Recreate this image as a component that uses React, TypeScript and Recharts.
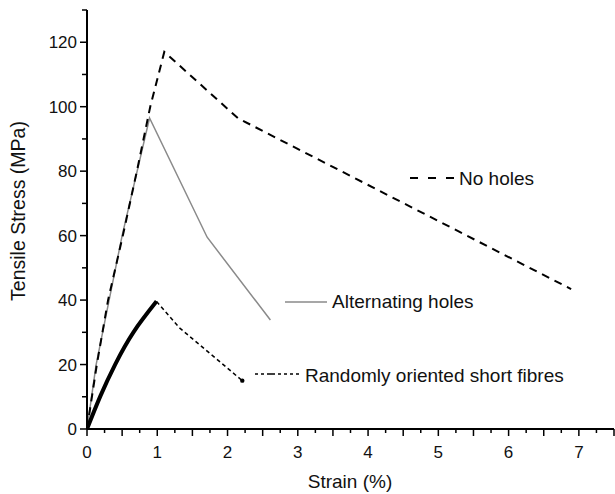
import React from "react";
import { Label, Line, LineChart, XAxis, YAxis } from "recharts";

// values
const noHolesStrain = [0, 0.14, 0.3, 0.51, 0.71, 0.9, 1.1, 2.15, 6.89];
const noHolesStress = [0, 20, 40, 60, 80, 100, 117, 96.4, 43.4];

const altStrain = [0, 0.13, 0.5, 0.89, 1.71, 2.61];
const altStress = [0, 20, 60, 96.5, 59.5, 33.8];

const randomSolidStrain = [0, 0.19, 0.4, 0.66, 0.99];
const randomSolidStress = [0, 10.2, 20, 30, 39.6];

const randomDashStrain = [0.99, 1.31, 2.21];
const randomDashStress = [39.6, 31.5, 15.0];

const xTicks = Array.from({ length: 31 }, (_, i) => i * 0.25);
const yTicks = Array.from({ length: 14 }, (_, i) => i * 10);

const legendNames = ["No holes", "Alternating holes", "Randomly oriented short fibres"];

const zip = (xs: number[], ys: number[]) => xs.map((x, i) => ({ x, y: ys[i] }));

const noHoles = zip(noHolesStrain, noHolesStress);
const alternating = zip(altStrain, altStress);
const randomSolid = zip(randomSolidStrain, randomSolidStress);
const randomDash = zip(randomDashStrain, randomDashStress);

const FONT = "'Liberation Sans', Arial, sans-serif";

function XTick({ x, y, payload }: any) {
  const v = payload.value as number;
  const isInt = Math.abs(v - Math.round(v)) < 1e-6;
  const isHalf = Math.abs(v * 2 - Math.round(v * 2)) < 1e-6;
  return (
    <g>
      <line x1={x} x2={x} y1={y} y2={y + (isHalf ? 7 : 4)} stroke="#000" strokeWidth={1.5} />
      {isInt && (
        <text x={x} y={y + 29} textAnchor="middle" fontSize={17} fontFamily={FONT} fill="#111">
          {v}
        </text>
      )}
    </g>
  );
}

function YTick({ x, y, payload }: any) {
  const v = payload.value as number;
  const major = v % 20 === 0;
  return (
    <g>
      <line x1={x - (major ? 7 : 5)} x2={x} y1={y} y2={y} stroke="#000" strokeWidth={1.5} />
      {major && (
        <text x={x - 10} y={y + 6} textAnchor="end" fontSize={17} fontFamily={FONT} fill="#111">
          {v}
        </text>
      )}
    </g>
  );
}

function EndDot({ cx, cy, index }: any) {
  if (index !== randomDash.length - 1) return <g key={index} />;
  return <circle key={index} cx={cx} cy={cy} r={2.2} fill="#000" />;
}

export default function App() {
  return (
    <div style={{ position: "absolute", left: 0, top: 0, width: 615, height: 494, background: "#fff" }}>
      <LineChart width={615} height={494} margin={{ top: 10, right: 1, left: 0, bottom: 0 }}>
        <XAxis
          type="number"
          dataKey="x"
          domain={[0, 7.5]}
          ticks={xTicks}
          interval={0}
          tickLine={false}
          tickSize={0}
          tickMargin={0}
          tick={<XTick />}
          height={65}
          axisLine={{ stroke: "#000", strokeWidth: 2 }}
          allowDataOverflow
        >
          <Label
            content={() => (
              <text x={350} y={488} textAnchor="middle" fontSize={19} fontFamily={FONT} fill="#111">
                Strain (%)
              </text>
            )}
          />
        </XAxis>
        <YAxis
          type="number"
          dataKey="y"
          domain={[0, 130]}
          ticks={yTicks}
          interval={0}
          tickLine={false}
          tickSize={0}
          tickMargin={0}
          tick={<YTick />}
          width={87}
          axisLine={{ stroke: "#000", strokeWidth: 2 }}
          allowDataOverflow
        >
          <Label
            content={() => (
              <text
                x={25}
                y={211}
                transform="rotate(-90, 25, 211)"
                textAnchor="middle"
                fontSize={19.5}
                fontFamily={FONT}
                fill="#111"
              >
                Tensile Stress (MPa)
              </text>
            )}
          />
        </YAxis>
        <Line
          data={alternating}
          dataKey="y"
          type="linear"
          stroke="#8a8a8a"
          strokeWidth={1.5}
          dot={false}
          isAnimationActive={false}
        />
        <Line
          data={noHoles}
          dataKey="y"
          type="linear"
          stroke="#000"
          strokeWidth={2}
          strokeDasharray="8 6"
          dot={false}
          isAnimationActive={false}
        />
        <Line
          data={randomSolid}
          dataKey="y"
          type="natural"
          stroke="#000"
          strokeWidth={4}
          dot={false}
          isAnimationActive={false}
        />
        <Line
          data={randomDash}
          dataKey="y"
          type="linear"
          stroke="#000"
          strokeWidth={1.5}
          strokeDasharray="4 3"
          dot={<EndDot />}
          isAnimationActive={false}
        />
      </LineChart>
      <svg
        width={615}
        height={494}
        style={{ position: "absolute", left: 0, top: 0, pointerEvents: "none" }}
      >
        <line x1={410} x2={455} y1={178} y2={178} stroke="#000" strokeWidth={2} strokeDasharray="8 10" />
        <text x={459} y={185} fontSize={19} fontFamily={FONT} fill="#111">
          {legendNames[0]}
        </text>
        <line x1={285} x2={327} y1={302} y2={302} stroke="#8a8a8a" strokeWidth={1.5} />
        <text x={332} y={308} fontSize={19} fontFamily={FONT} fill="#111">
          {legendNames[1]}
        </text>
        <line
          x1={255}
          x2={302}
          y1={374}
          y2={374}
          stroke="#000"
          strokeWidth={1.5}
          strokeDasharray="3 3 3 3 8 3 3 3 3 3"
        />
        <text x={305} y={382} fontSize={19} fontFamily={FONT} fill="#111">
          {legendNames[2]}
        </text>
      </svg>
    </div>
  );
}
